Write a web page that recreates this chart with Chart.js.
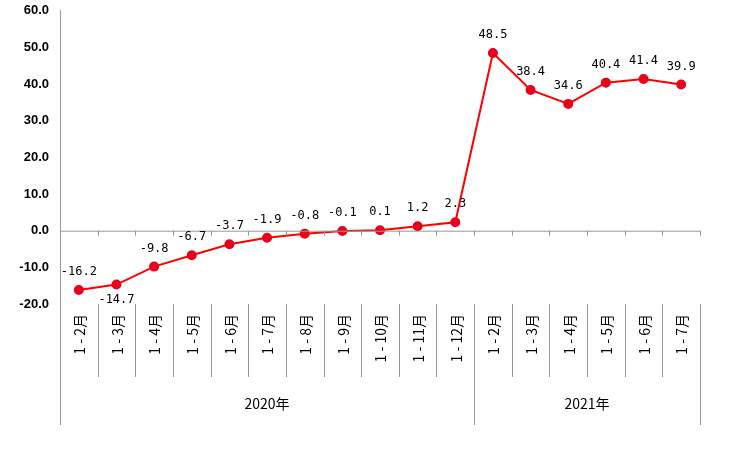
<!DOCTYPE html>
<html><head><meta charset="utf-8">
<script src="https://cdn.jsdelivr.net/npm/chart.js@4"></script>
<style>html,body{margin:0;padding:0;background:#fff}#w{width:734px;height:452px}</style>
</head><body><div id="w"><canvas id="c"></canvas></div>
<script>
const categories=["1-2月","1-3月","1-4月","1-5月","1-6月","1-7月","1-8月","1-9月","1-10月","1-11月","1-12月","1-2月","1-3月","1-4月","1-5月","1-6月","1-7月"];
const values=[-16.2,-14.7,-9.8,-6.7,-3.7,-1.9,-0.8,-0.1,0.1,1.2,2.3,48.5,38.4,34.6,40.4,41.4,39.9];
const groups=[{label:"2020年",count:11},{label:"2021年",count:6}];
const labelBelow=[1];
const mono='"DejaVu Sans Mono", monospace';
const cjk='"Noto Sans CJK SC", sans-serif';
const deco={id:'deco',afterDatasetsDraw(ch){
  const ctx=ch.ctx,x=ch.scales.x,y=ch.scales.y,a=ch.chartArea;
  const n=categories.length,step=(a.right-a.left)/n,y0=y.getPixelForValue(0);
  ctx.save();ctx.strokeStyle='#999';ctx.lineWidth=1;
  ctx.beginPath();ctx.moveTo(a.left,y0+.5);ctx.lineTo(a.right,y0+.5);
  for(let i=0;i<=n;i++){const px=Math.round(a.left+i*step)+.5;ctx.moveTo(px,y0);ctx.lineTo(px,y0+5);
    ctx.moveTo(px,a.bottom);ctx.lineTo(px,a.bottom+73);}
  let acc=0;[0,...groups.map(g=>acc+=g.count)].forEach(k=>{const px=Math.round(a.left+k*step)+.5;ctx.moveTo(px,a.bottom);ctx.lineTo(px,a.bottom+121);});
  ctx.stroke();
  ctx.fillStyle='#000';ctx.font='14px '+cjk;
  categories.forEach((c,i)=>{const px=x.getPixelForValue(i);ctx.save();ctx.translate(px+1,a.bottom+10);ctx.rotate(-Math.PI/2);ctx.textAlign='right';ctx.textBaseline='middle';ctx.fillText(c.replace('-',' - '),0,0);ctx.restore();});
  acc=0;groups.forEach(g=>{const cx=a.left+(acc+g.count/2)*step;acc+=g.count;ctx.textAlign='center';ctx.textBaseline='middle';ctx.fillText(g.label,cx,a.bottom+100);});
  ctx.font='12px '+mono;ctx.textAlign='center';
  values.forEach((v,i)=>{const px=x.getPixelForValue(i),py=y.getPixelForValue(v);
    const below=labelBelow.includes(i);ctx.textBaseline=below?'top':'bottom';ctx.fillText(v.toFixed(1),px,below?py+9:py-12);});
  ctx.restore();}};
new Chart(document.getElementById('c'),{type:'line',
 data:{labels:categories,datasets:[{data:values,borderColor:'#ff0000',borderWidth:2,pointBackgroundColor:'#e8001c',pointBorderColor:'#e8001c',pointRadius:4,tension:0}]},
 options:{responsive:true,maintainAspectRatio:false,animation:false,
  layout:{padding:{top:5,right:34,bottom:140,left:0}},
  plugins:{legend:{display:false},tooltip:{enabled:false}},
  scales:{x:{offset:true,grid:{display:false},border:{display:false},ticks:{display:false}},
   y:{min:-20,max:60,afterFit(s){s.width=60;},grid:{display:false},border:{color:'#999'},
    ticks:{stepSize:10,color:'#000',font:{family:'"Liberation Sans", sans-serif',size:13,weight:'bold'},callback:v=>v.toFixed(1)}}}},
 plugins:[deco]});
</script></body></html>
